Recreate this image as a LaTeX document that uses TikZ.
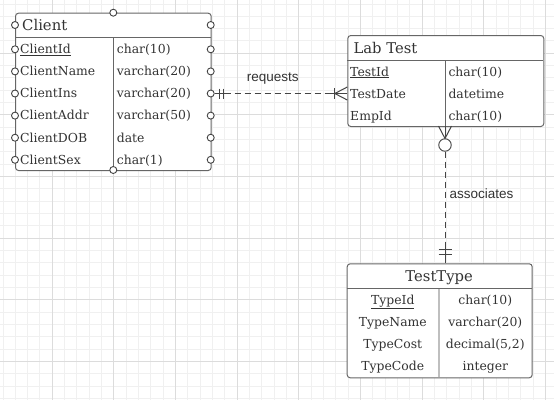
\documentclass[tikz,border=0pt]{standalone}
\usepackage{fontspec}
\setmainfont{DejaVu Serif}
\newfontfamily\labelfont{Liberation Sans}
\definecolor{gridminor}{HTML}{F0F0F0}
\definecolor{gridmajor}{HTML}{DCDCDC}
\definecolor{tblborder}{HTML}{666666}
\definecolor{txt}{HTML}{333333}
\definecolor{relcolor}{HTML}{444444}

\begin{document}
\begin{tikzpicture}[x=1pt, y=-1pt,
    entity/.style={rectangle, draw=tblborder, line width=1pt, rounded corners=3pt, fill=white, inner sep=0pt, anchor=north west},
    sepline/.style={draw=tblborder, line width=1pt},
    head/.style={font=\fontsize{14.8}{16}\selectfont, text=txt, inner sep=0pt},
    field/.style={font=\fontsize{12.4}{14}\selectfont, text=txt, inner sep=0pt},
    port/.style={circle, draw=relcolor, fill=white, line width=0.9pt, minimum size=7pt, inner sep=0pt},
    rel/.style={draw=relcolor, line width=1pt, dash pattern=on 6pt off 4pt},
    relsolid/.style={draw=relcolor, line width=1pt},
    rellabel/.style={font=\labelfont\fontsize{13.5}{15}\selectfont, text=txt, inner sep=0pt}
]
    \useasboundingbox (0,0) rectangle (554,400);
    \fill[white] (0,0) rectangle (554,400);

    % Grid
    \foreach \i in {0,...,44} \draw[gridminor, line width=1pt] (3+12.33*\i,0) -- (3+12.33*\i,400);
    \foreach \i in {0,...,32} \draw[gridminor, line width=1pt] (0,4+12.33*\i) -- (554,4+12.33*\i);
    \foreach \i in {0,...,8} \draw[gridmajor, line width=1pt] (52.3+61.65*\i,0) -- (52.3+61.65*\i,400);
    \foreach \i in {0,...,5} \draw[gridmajor, line width=1pt] (0,53.3+61.65*\i) -- (554,53.3+61.65*\i);

    % Client table
    \node[entity, minimum width=195.7pt, minimum height=157.3pt] (client) at (15,12.7) {};
    \draw[sepline] (15,37.3) -- (210.7,37.3);
    \draw[sepline] (113.3,37.3) -- (113.3,170);
    \node[head, anchor=base west] (client-head) at (22,30.7) {Client};
    \node[field, anchor=base west] (client-id) at (20,53.6) {\underline{ClientId}};
    \node[field, anchor=base west] (client-name) at (20,75.7) {ClientName};
    \node[field, anchor=base west] (client-ins) at (20,97.8) {ClientIns};
    \node[field, anchor=base west] (client-addr) at (20,119.9) {ClientAddr};
    \node[field, anchor=base west] (client-dob) at (20,142) {ClientDOB};
    \node[field, anchor=base west] (client-sex) at (20,164.1) {ClientSex};
    \node[field, anchor=base west] (client-id-t) at (116.7,53.6) {char(10)};
    \node[field, anchor=base west] (client-name-t) at (116.7,75.7) {varchar(20)};
    \node[field, anchor=base west] (client-ins-t) at (116.7,97.8) {varchar(20)};
    \node[field, anchor=base west] (client-addr-t) at (116.7,119.9) {varchar(50)};
    \node[field, anchor=base west] (client-dob-t) at (116.7,142) {date};
    \node[field, anchor=base west] (client-sex-t) at (116.7,164.1) {char(1)};

    % Client ports
    \foreach \y [count=\i] in {25,49.3,71.4,93.5,115.6,137.7,159.8} {
        \node[port] (client-l\i) at (15,\y) {};
        \node[port] (client-r\i) at (210.7,\y) {};
    }
    \node[port] (client-t) at (113.3,12.7) {};
    \node[port] (client-b) at (113.3,170) {};

    % Lab Test table
    \node[entity, minimum width=196pt, minimum height=91pt] (labtest) at (347.3,35) {};
    \draw[sepline] (347.3,60) -- (543.3,60);
    \draw[sepline] (445,60) -- (445,126);
    \node[head, anchor=base west] (labtest-head) at (353.3,53.5) {Lab Test};
    \node[field, anchor=base west] (labtest-id) at (350,76) {\underline{TestId}};
    \node[field, anchor=base west] (labtest-date) at (350,98.3) {TestDate};
    \node[field, anchor=base west] (labtest-emp) at (350,120.7) {EmpId};
    \node[field, anchor=base west] (labtest-id-t) at (448.3,76) {char(10)};
    \node[field, anchor=base west] (labtest-date-t) at (448.3,98.3) {datetime};
    \node[field, anchor=base west] (labtest-emp-t) at (448.3,120.7) {char(10)};

    % TestType table
    \node[entity, minimum width=185pt, minimum height=114pt] (testtype) at (346.7,263.3) {};
    \draw[sepline] (346.7,288.3) -- (531.7,288.3);
    \draw[sepline, draw=black!25, line width=1.6pt] (439,289) -- (439,376.6);
    \node[head, anchor=base] (testtype-head) at (439.2,281.7) {TestType};
    \node[field, anchor=base] (testtype-id) at (392.8,304.3) {\underline{TypeId}};
    \node[field, anchor=base] (testtype-name) at (392.8,326.7) {TypeName};
    \node[field, anchor=base] (testtype-cost) at (392.8,348.3) {TypeCost};
    \node[field, anchor=base] (testtype-code) at (392.8,370.7) {TypeCode};
    \node[field, anchor=base] (testtype-id-t) at (485.3,304.3) {char(10)};
    \node[field, anchor=base] (testtype-name-t) at (485.3,326.7) {varchar(20)};
    \node[field, anchor=base] (testtype-cost-t) at (485.3,348.3) {decimal(5,2)};
    \node[field, anchor=base] (testtype-code-t) at (485.3,370.7) {integer};

    % requests
    \coordinate (labtest-in) at (347.3,93.5);
    \draw[rel] (client-r4) -- (labtest-in);
    \draw[relsolid] (client-r4.east) -- ++(14,0);
    \draw[relsolid] (client-r4.east) ++(4.8,-5) -- ++(0,10);
    \draw[relsolid] (client-r4.east) ++(9.3,-5) -- ++(0,10);
    \draw[relsolid] (labtest-in) -- ++(-19,0);
    \draw[relsolid] (labtest-in) ++(0,-6.5) -- ++(-12.5,6.5) -- ++(12.5,6.5);
    \draw[relsolid] (labtest-in) ++(-13.3,-5.5) -- ++(0,11);
    \node[rellabel, anchor=base] (lbl-requests) at (272.7,81) {requests};

    % associates
    \coordinate (labtest-out) at (445,126);
    \coordinate (testtype-in) at (445,263.3);
    \node[port, minimum size=12.5pt] (labtest-zero) at (445,145) {};
    \draw[rel] (labtest-zero) -- (testtype-in);
    \draw[relsolid] (labtest-out) ++(-6.5,0) -- ++(6.5,12.5) -- ++(6.5,-12.5);
    \draw[relsolid] (labtest-out) -- (labtest-zero);
    \draw[relsolid] (testtype-in) -- ++(0,-18);
    \draw[relsolid] (testtype-in) ++(-6.5,-14.3) -- ++(13,0);
    \draw[relsolid] (testtype-in) ++(-6.5,-9.3) -- ++(13,0);
    \node[rellabel, anchor=base west] (lbl-assoc) at (449.3,198.3) {associates};
\end{tikzpicture}
\end{document}
